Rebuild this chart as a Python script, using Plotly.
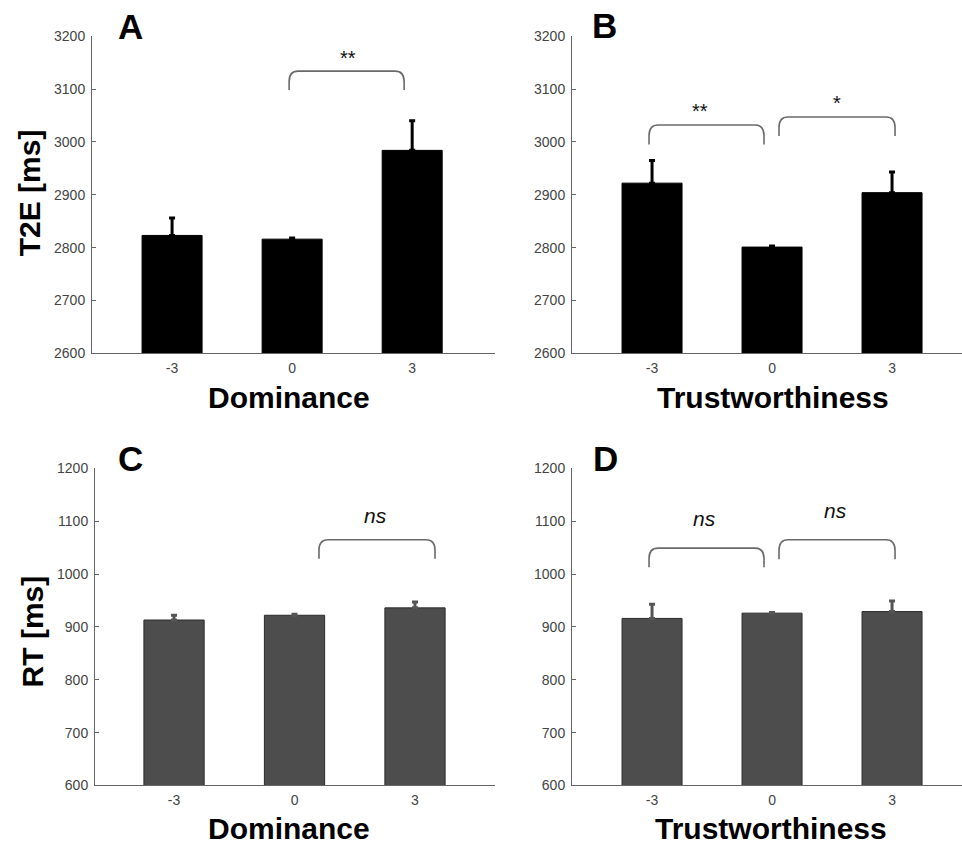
import plotly.graph_objects as go

# ---------------- data ----------------
categories = ["-3", "0", "3"]

dom_t2e = [2823, 2816, 2984]
dom_t2e_err = [33, 2, 56]
trust_t2e = [2922, 2801, 2904]
trust_t2e_err = [43, 2, 39]

dom_rt = [913, 922, 936]
dom_rt_err = [9, 2, 11]
trust_rt = [916, 926, 929]
trust_rt_err = [27, 1, 20]

# brackets: (x start, x end, top value, foot value) in category-index units
brackets_a = [(0.975, 1.933, 3134, 3098)]
brackets_b = [(-0.025, 0.933, 3032, 2995), (1.058, 2.025, 3047, 3011)]
brackets_c = [(1.203, 2.166, 1065, 1029)]
brackets_d = [(-0.025, 0.933, 1049, 1013), (1.058, 2.025, 1065, 1028)]

# significance labels: (x, y, text)
labels_a = [(1.467, 3170, "**")]
labels_b = [(0.40, 3069, "**"), (1.54, 3085, "*")]
labels_c = [(1.668, 1111, "<i>ns</i>")]
labels_d = [(0.44, 1106, "<i>ns</i>"), (1.53, 1120, "<i>ns</i>")]

W, H = 962, 856
FONT = "Liberation Sans, Arial, sans-serif"

fig = go.Figure()

panels = [
    (dom_t2e, dom_t2e_err, "x", "y", "#000000", "#000000", "#000000", brackets_a, labels_a),
    (trust_t2e, trust_t2e_err, "x2", "y2", "#000000", "#000000", "#000000", brackets_b, labels_b),
    (dom_rt, dom_rt_err, "x3", "y3", "#4d4d4d", "#2b2b2b", "#555555", brackets_c, labels_c),
    (trust_rt, trust_rt_err, "x4", "y4", "#4d4d4d", "#2b2b2b", "#555555", brackets_d, labels_d),
]

xidx = list(range(len(categories)))

for vals, errs, xa, ya, fill, lc, ec, brs, labs in panels:
    fig.add_trace(go.Bar(
        x=xidx, y=vals, width=0.5,
        marker=dict(color=fill, line=dict(color=lc, width=1)),
        error_y=dict(type="data", array=errs, arrayminus=[0] * len(errs),
                     symmetric=False, color=ec, thickness=3, width=3),
        xaxis=xa, yaxis=ya, showlegend=False, hoverinfo="skip",
    ))
    for (x0, x1, yt, yf) in brs:
        rx = 0.075
        ym = yt - (yt - yf) * 0.55
        path = (f"M {x0},{yf} L {x0},{ym} Q {x0},{yt} {x0 + rx},{yt} "
                f"L {x1 - rx},{yt} Q {x1},{yt} {x1},{ym} L {x1},{yf}")
        fig.add_shape(type="path", path=path, xref=xa, yref=ya,
                      line=dict(color="#6a6a6a", width=1.6))
    for (x, y, t) in labs:
        is_star = "*" in t
        fig.add_annotation(x=x, y=y, xref=xa, yref=ya, text=t, showarrow=False,
                           font=dict(family=FONT, size=20 if is_star else 21, color="#111"),
                           yshift=-6 if is_star else 0)

# ---------------- axes ----------------
def px_x(p):
    return p / W

def px_y(p):
    # compensate for the capture's slight vertical squeeze / offset
    q = (p - 7.8) / 0.981
    return 1 - q / H

axis_common = dict(showline=True, linecolor="#666", linewidth=1, showgrid=False,
                   zeroline=False, tickfont=dict(family=FONT, size=14, color="#444"))

xdefs = {
    "xaxis": dict(domain=[px_x(92), px_x(495)], range=[-0.667, 2.69], anchor="y"),
    "xaxis2": dict(domain=[px_x(572), 1.0], range=[-0.667, 2.583], anchor="y2"),
    "xaxis3": dict(domain=[px_x(95), px_x(495)], range=[-0.656, 2.664], anchor="y3"),
    "xaxis4": dict(domain=[px_x(572), 1.0], range=[-0.667, 2.583], anchor="y4"),
}
for k, v in xdefs.items():
    fig.update_layout(**{k: dict(**axis_common, **v, tickmode="array", tickvals=xidx,
                                 ticktext=categories, ticks="", ticklabelstandoff=2)})

ydefs = {
    "yaxis": dict(domain=[px_y(353), px_y(36)], range=[2600, 3200], anchor="x"),
    "yaxis2": dict(domain=[px_y(353), px_y(36)], range=[2600, 3200], anchor="x2"),
    "yaxis3": dict(domain=[px_y(785), px_y(468)], range=[600, 1200], anchor="x3"),
    "yaxis4": dict(domain=[px_y(785), px_y(468)], range=[600, 1200], anchor="x4"),
}
for k, v in ydefs.items():
    fig.update_layout(**{k: dict(**axis_common, **v, dtick=100, ticks="inside",
                                 ticklen=4, tickcolor="#666", ticklabelstandoff=3)})

# ---------------- titles & panel letters ----------------
def paper_text(x, y, text, size, angle=0, bold=True):
    fig.add_annotation(x=px_x(x), y=px_y(y), xref="paper", yref="paper",
                       text=f"<b>{text}</b>" if bold else text, showarrow=False,
                       textangle=angle, xanchor="center", yanchor="middle",
                       font=dict(family=FONT, size=size, color="#000"))

paper_text(289, 397, "Dominance", 30)
paper_text(773, 397, "Trustworthiness", 30)
paper_text(289, 828, "Dominance", 30)
paper_text(771, 828, "Trustworthiness", 30)
paper_text(29, 193, "T2E [ms]", 30, angle=-90)
paper_text(32, 631, "RT [ms]", 30, angle=-90)

paper_text(130, 26, "A", 35)
paper_text(604, 25, "B", 35)
paper_text(130, 458, "C", 35)
paper_text(605, 458, "D", 35)

fig.update_layout(width=W, height=H, margin=dict(l=0, r=0, t=0, b=0),
                  paper_bgcolor="white", plot_bgcolor="white", bargap=0.5)

fig.write_html("out.html", config={"displayModeBar": False},
               post_script="document.body.style.margin='0';document.body.style.overflow='hidden';")
